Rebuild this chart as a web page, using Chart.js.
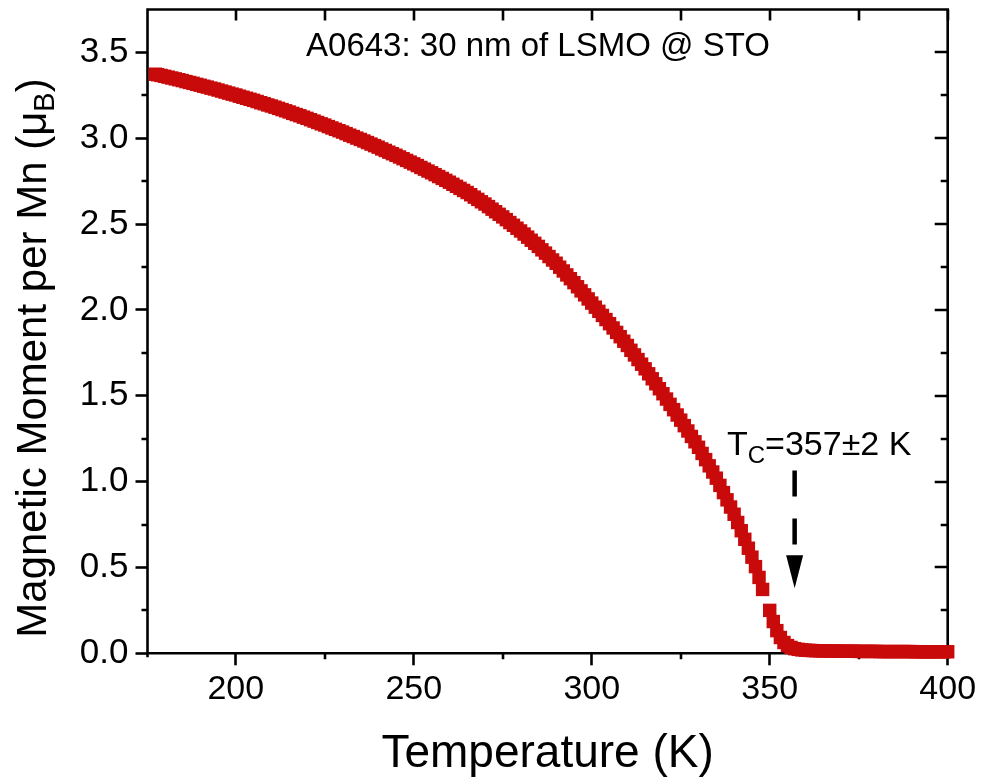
<!DOCTYPE html>
<html>
<head>
<meta charset="utf-8">
<script src="https://cdn.jsdelivr.net/npm/chart.js@4/dist/chart.umd.min.js"></script>
<style>
  html, body { margin: 0; padding: 0; background: #ffffff; }
  #wrap { width: 984px; height: 782px; }
</style>
</head>
<body>
<div id="wrap"><canvas id="chart" width="984" height="782"></canvas></div>
<script>
// M(T) of a 30 nm LSMO film on STO, magnetic moment per Mn in Bohr magnetons
const temperature = [
  177.4, 178, 179, 180, 181, 182, 183, 184, 185, 186, 187, 188, 189, 190,
  191, 192, 193, 194, 195, 196, 197, 198, 199, 200,
  201, 202, 203, 204, 205, 206, 207, 208, 209, 210,
  211, 212, 213, 214, 215, 216, 217, 218, 219, 220,
  221, 222, 223, 224, 225, 226, 227, 228, 229, 230,
  231, 232, 233, 234, 235, 236, 237, 238, 239, 240,
  241, 242, 243, 244, 245, 246, 247, 248, 249, 250,
  251, 252, 253, 254, 255, 256, 257, 258, 259, 260,
  261, 262, 263, 264, 265, 266, 267, 268, 269, 270,
  271, 272, 273, 274, 275, 276, 277, 278, 279, 280,
  281, 282, 283, 284, 285, 286, 287, 288, 289, 290,
  291, 292, 293, 294, 295, 296, 297, 298, 299, 300,
  301, 302, 303, 304, 305, 306, 307, 308, 309, 310,
  311, 312, 313, 314, 315, 316, 317, 318, 319, 320,
  321, 322, 323, 324, 325, 326, 327, 328, 329, 330,
  331, 332, 333, 334, 335, 336, 337, 338, 339, 340,
  341, 342, 343, 344, 345, 346, 347, 348,
  350, 351, 352, 353, 354, 355, 356, 357, 358, 359, 360,
  361, 362, 363, 364, 365, 366, 367, 368, 369, 370,
  371, 372, 373, 374, 375, 376, 377, 378, 379, 380,
  381, 382, 383, 384, 385, 386, 387, 388, 389, 390,
  391, 392, 393, 394, 395, 396, 397, 398, 399, 400
];

const moment = [
  3.373, 3.370, 3.366, 3.361, 3.356, 3.351, 3.346, 3.341, 3.336, 3.330, 3.325, 3.320, 3.314, 3.309,
  3.303, 3.298, 3.292, 3.287, 3.281, 3.275, 3.269, 3.263, 3.257, 3.252,
  3.245, 3.239, 3.233, 3.227, 3.221, 3.214, 3.207, 3.201, 3.194, 3.188,
  3.181, 3.174, 3.167, 3.160, 3.153, 3.145, 3.138, 3.131, 3.123, 3.116,
  3.108, 3.100, 3.092, 3.084, 3.077, 3.068, 3.060, 3.052, 3.044, 3.036,
  3.027, 3.018, 3.010, 3.001, 2.993, 2.984, 2.975, 2.966, 2.957, 2.948,
  2.938, 2.929, 2.919, 2.910, 2.901, 2.891, 2.881, 2.871, 2.861, 2.851,
  2.841, 2.830, 2.820, 2.809, 2.799, 2.788, 2.777, 2.766, 2.755, 2.744,
  2.732, 2.720, 2.708, 2.696, 2.684, 2.671, 2.657, 2.644, 2.630, 2.617,
  2.602, 2.587, 2.572, 2.557, 2.542, 2.526, 2.509, 2.493, 2.476, 2.460,
  2.442, 2.424, 2.406, 2.388, 2.370, 2.350, 2.331, 2.311, 2.291, 2.272,
  2.249, 2.227, 2.204, 2.182, 2.159, 2.135, 2.111, 2.088, 2.064, 2.040,
  2.016, 1.992, 1.968, 1.944, 1.920, 1.895, 1.869, 1.844, 1.818, 1.793,
  1.765, 1.738, 1.711, 1.684, 1.657, 1.628, 1.599, 1.570, 1.541, 1.512,
  1.481, 1.450, 1.419, 1.388, 1.358, 1.326, 1.295, 1.263, 1.232, 1.200,
  1.164, 1.128, 1.092, 1.056, 1.020, 0.978, 0.936, 0.894, 0.852, 0.810,
  0.762, 0.714, 0.664, 0.612, 0.560, 0.505, 0.442, 0.372,
  0.250, 0.185, 0.132, 0.092, 0.063, 0.045, 0.034, 0.027, 0.023, 0.020, 0.018,
  0.017, 0.016, 0.015, 0.015, 0.014, 0.014, 0.013, 0.013, 0.013, 0.012,
  0.012, 0.012, 0.012, 0.012, 0.011, 0.011, 0.011, 0.011, 0.011, 0.011,
  0.010, 0.010, 0.010, 0.010, 0.010, 0.010, 0.010, 0.010, 0.010, 0.010,
  0.009, 0.009, 0.009, 0.009, 0.009, 0.009, 0.009, 0.009, 0.009, 0.009
];

// Axis ticks
const xMajorTicks = [200, 250, 300, 350, 400];
const xMinorTicks = [225, 275, 325, 375];
const yMajorTicks = [0, 0.5, 1.0, 1.5, 2.0, 2.5, 3.0, 3.5];
const yMinorTicks = [0.25, 0.75, 1.25, 1.75, 2.25, 2.75, 3.25];

// Curie temperature and its uncertainty (K)
const curieTemp = 357;
const curieErr = 2;

const sampleTitle = 'A0643: 30 nm of LSMO @ STO';
const xAxisTitle = 'Temperature (K)';

const FONT = "'Liberation Sans', Arial, Helvetica, sans-serif";
const RED = '#c80a0a';

// Frame, minor ticks and mirrored ticks on top/right, drawn beneath the data
const framePlugin = {
  id: 'frame',
  beforeDatasetsDraw(chart) {
    const { ctx, chartArea: a, scales: { x, y } } = chart;
    ctx.save();
    ctx.strokeStyle = '#000';
    ctx.lineWidth = 2.6;
    ctx.lineCap = 'butt';
    ctx.beginPath();
    ctx.moveTo(a.left, a.bottom + 4);
    ctx.lineTo(a.left, a.top);
    ctx.lineTo(a.right, a.top);
    ctx.lineTo(a.right, a.bottom + 4);
    ctx.moveTo(a.left - 1.3, a.bottom);
    ctx.lineTo(a.right + 1.3, a.bottom);
    ctx.stroke();

    ctx.beginPath();
    // bottom minor ticks (outward)
    xMinorTicks.forEach(v => {
      const px = Math.round(x.getPixelForValue(v));
      ctx.moveTo(px, a.bottom); ctx.lineTo(px, a.bottom + 6);
    });
    // top ticks (inward)
    xMajorTicks.concat(xMinorTicks).forEach(v => {
      const px = Math.round(x.getPixelForValue(v));
      ctx.moveTo(px, a.top); ctx.lineTo(px, a.top + 11);
    });
    // left minor ticks (outward)
    yMinorTicks.forEach(v => {
      const py = Math.round(y.getPixelForValue(v));
      ctx.moveTo(a.left, py); ctx.lineTo(a.left - 6, py);
    });
    // right ticks (inward)
    yMajorTicks.forEach(v => {
      const py = Math.round(y.getPixelForValue(v));
      ctx.moveTo(a.right, py); ctx.lineTo(a.right - 13, py);
    });
    yMinorTicks.forEach(v => {
      const py = Math.round(y.getPixelForValue(v));
      ctx.moveTo(a.right, py); ctx.lineTo(a.right - 7, py);
    });
    ctx.stroke();
    ctx.restore();
  }
};

// Titles, T_C label and arrow
const textPlugin = {
  id: 'texts',
  afterDraw(chart) {
    const { ctx, chartArea: a, scales: { x, y } } = chart;
    ctx.save();
    ctx.fillStyle = '#000';
    ctx.textBaseline = 'alphabetic';

    // sample title inside the frame
    ctx.font = `33px ${FONT}`;
    ctx.textAlign = 'center';
    ctx.fillText(sampleTitle, 538, 56);

    // x axis title
    ctx.font = `46px ${FONT}`;
    ctx.fillText(xAxisTitle, (a.left + a.right) / 2, 767);

    // y axis title with subscript B
    const big = `42px ${FONT}`, small = `29px ${FONT}`;
    const p1 = 'Magnetic Moment per Mn (\u03bc', p2 = 'B', p3 = ')';
    ctx.font = big; const w1 = ctx.measureText(p1).width, w3 = ctx.measureText(p3).width;
    ctx.font = small; const w2 = ctx.measureText(p2).width;
    const total = w1 + w2 + w3;
    ctx.translate(46, 358);
    ctx.rotate(-Math.PI / 2);
    ctx.textAlign = 'left';
    let cx = -total / 2;
    ctx.font = big; ctx.fillText(p1, cx, 0); cx += w1;
    ctx.font = small; ctx.fillText(p2, cx, 8); cx += w2;
    ctx.font = big; ctx.fillText(p3, cx, 0);
    ctx.setTransform(1, 0, 0, 1, 0, 0);

    // T_C label
    const lx = 727, ly = 455;
    ctx.textAlign = 'left';
    ctx.font = `34px ${FONT}`;
    ctx.fillText('T', lx, ly);
    let tx = lx + ctx.measureText('T').width;
    ctx.font = `24px ${FONT}`;
    ctx.fillText('C', tx, ly + 8);
    tx += ctx.measureText('C').width;
    ctx.font = `34px ${FONT}`;
    ctx.fillText('=' + curieTemp + '\u00b1' + curieErr + ' K', tx, ly);

    // dashed arrow pointing at T_C
    const ax = x.getPixelForValue(curieTemp);
    const yTop = y.getPixelForValue(1.065);
    const yHead = y.getPixelForValue(0.571);
    const yTip = y.getPixelForValue(0.379);
    ctx.strokeStyle = '#000';
    ctx.lineWidth = 4.5;
    ctx.setLineDash([26, 22]);
    ctx.beginPath();
    ctx.moveTo(ax, yTop);
    ctx.lineTo(ax, yHead - 2);
    ctx.stroke();
    ctx.setLineDash([]);
    ctx.beginPath();
    ctx.moveTo(ax - 8.5, yHead);
    ctx.lineTo(ax + 8.5, yHead);
    ctx.lineTo(ax, yTip);
    ctx.closePath();
    ctx.fill();
    ctx.restore();
  }
};

const points = temperature.map((t, i) => ({ x: t, y: moment[i] }));

new Chart(document.getElementById('chart'), {
  type: 'scatter',
  data: {
    datasets: [{
      label: 'M(T)',
      data: points,
      pointStyle: 'rect',
      pointRadius: 9.5,
      pointBackgroundColor: RED,
      pointBorderWidth: 0,
      pointHoverRadius: 9.5,
      showLine: false,
      clip: false
    }]
  },
  options: {
    responsive: false,
    animation: false,
    devicePixelRatio: 1,
    events: [],
    layout: { padding: { left: 0, top: 7.3, right: 36.3, bottom: 0 } },
    plugins: { legend: { display: false }, tooltip: { enabled: false } },
    scales: {
      x: {
        type: 'linear',
        min: 175.2,
        max: 400,
        afterBuildTicks: s => { s.ticks = xMajorTicks.map(v => ({ value: v })); },
        afterFit: s => {
          s.height = 782 - 653.3;
          s.paddingLeft = 0; s.paddingRight = 0;
        },
        border: { display: false },
        grid: { display: true, drawOnChartArea: false, drawTicks: true, tickLength: 12, tickWidth: 2.6, tickColor: '#000' },
        ticks: { color: '#000', font: { family: FONT, size: 34 }, padding: 4, maxRotation: 0, autoSkip: false }
      },
      y: {
        type: 'linear',
        min: 0,
        max: 3.75,
        afterBuildTicks: s => { s.ticks = yMajorTicks.map(v => ({ value: v })); },
        afterFit: s => {
          s.width = 147.5;
          s.paddingTop = 0; s.paddingBottom = 0;
        },
        border: { display: false },
        grid: { display: true, drawOnChartArea: false, drawTicks: true, tickLength: 12, tickWidth: 2.6, tickColor: '#000' },
        ticks: { color: '#000', font: { family: FONT, size: 35 }, padding: 7, callback: v => Number(v).toFixed(1) }
      }
    }
  },
  plugins: [framePlugin, textPlugin]
});
</script>
</body>
</html>
